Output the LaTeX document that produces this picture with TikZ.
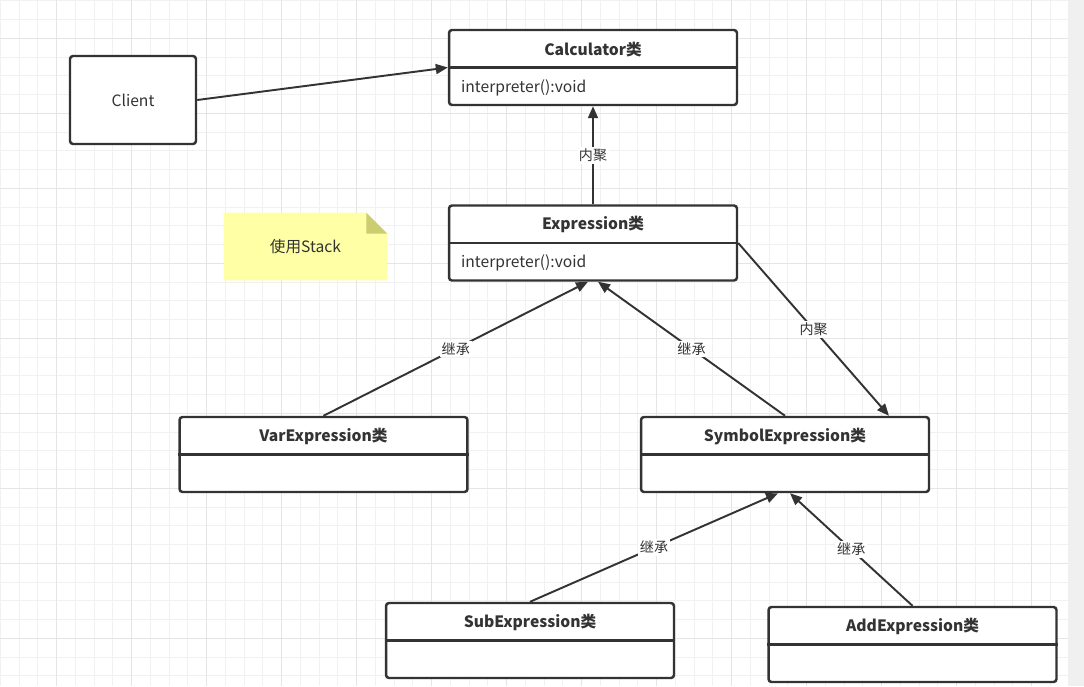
\documentclass[tikz,border=0pt]{standalone}
\usepackage{fontspec}
\setmainfont{Noto Sans CJK SC}
\usetikzlibrary{arrows.meta,positioning}
\definecolor{linegray}{HTML}{333333}
\definecolor{gridminor}{HTML}{F1F1F1}
\definecolor{gridmajor}{HTML}{E5E5E5}
\definecolor{barside}{HTML}{F0F0F0}
\definecolor{noteyellow}{HTML}{FFFFA6}
\definecolor{notefold}{HTML}{CCCC70}

\begin{document}
\begin{tikzpicture}[
  x=0.02cm, y=-0.02cm,
  cls/.style={draw=linegray, line width=1.4pt, rounded corners=0.06cm, fill=white, minimum width=5.76cm, minimum height=1.5cm, inner sep=0pt},
  clstitle/.style={font=\fontsize{8.9}{10}\selectfont\bfseries, text=linegray, inner sep=0pt},
  clsattr/.style={font=\fontsize{8.9}{10}\selectfont, text=linegray, inner sep=0pt, anchor=west},
  link/.style={draw=linegray, line width=1.1pt, -{Triangle[length=0.24cm, width=0.2cm]}},
  lbl/.style={fill=white, inner sep=1pt, font=\fontsize{8}{9}\selectfont, text=linegray},
]
  \useasboundingbox (0,0) rectangle (1084,686);
  \fill[white] (0,0) rectangle (1084,686);

  % Grid
  \foreach \i in {0,...,57} \draw[gridminor, line width=0.6pt] ({0.4+18.75*\i},0) -- ({0.4+18.75*\i},686);
  \foreach \i in {0,...,36} \draw[gridminor, line width=0.6pt] (0,{0.8+18.75*\i}) -- (1084,{0.8+18.75*\i});
  \foreach \i in {0,...,13} \draw[gridmajor, line width=0.6pt] ({56.65+75*\i},0) -- ({56.65+75*\i},686);
  \foreach \i in {0,...,8} \draw[gridmajor, line width=0.6pt] (0,{38.3+75*\i}) -- (1084,{38.3+75*\i});
  \fill[barside] (1068,0) rectangle (1084,686);

  % Classes
  \node[cls, minimum width=2.52cm, minimum height=1.76cm, font=\fontsize{8.9}{10}\selectfont, text=linegray] (client) at (133,100) {Client};

  \node[cls] (calc) at (593,67.5) {};
  \node[clstitle] (calcT) at ([yshift=-0.41cm]calc.north) {Calculator类};
  \draw[draw=linegray, line width=1.4pt] (calc.west) -- (calc.east);
  \node[clsattr] (calcA) at ([xshift=0.26cm, yshift=-0.4cm]calc.west) {interpreter():void};

  \node[cls] (expr) at (593,243) {};
  \node[clstitle] (exprT) at ([yshift=-0.41cm]expr.north) {Expression类};
  \draw[draw=linegray, line width=1.4pt] (expr.west) -- (expr.east);
  \node[clsattr] (exprA) at ([xshift=0.26cm, yshift=-0.4cm]expr.west) {interpreter():void};

  \node[cls] (var) at (323.5,454.5) {};
  \node[clstitle] (varT) at ([yshift=-0.41cm]var.north) {VarExpression类};
  \draw[draw=linegray, line width=1.4pt] (var.west) -- (var.east);

  \node[cls] (sym) at (785,454.5) {};
  \node[clstitle] (symT) at ([yshift=-0.41cm]sym.north) {SymbolExpression类};
  \draw[draw=linegray, line width=1.4pt] (sym.west) -- (sym.east);

  \node[cls] (sub) at (530,640.5) {};
  \node[clstitle] (subT) at ([yshift=-0.41cm]sub.north) {SubExpression类};
  \draw[draw=linegray, line width=1.4pt] (sub.west) -- (sub.east);

  \node[cls] (add) at (912.5,644.5) {};
  \node[clstitle] (addT) at ([yshift=-0.41cm]add.north) {AddExpression类};
  \draw[draw=linegray, line width=1.4pt] (add.west) -- (add.east);

  % Note
  \node[minimum width=3.26cm, minimum height=1.34cm, inner sep=0pt] (note) at (305.5,246.5) {};
  \fill[noteyellow] (note.south west) -- (note.north west) -- ([xshift=-0.42cm]note.north east) -- ([yshift=-0.42cm]note.north east) -- (note.south east) -- cycle;
  \fill[notefold] ([xshift=-0.42cm]note.north east) -- ([xshift=-0.42cm, yshift=-0.42cm]note.north east) -- ([yshift=-0.42cm]note.north east) -- cycle;
  \node[font=\fontsize{8.9}{10}\selectfont, text=linegray] (noteT) at (note) {使用Stack};

  % Links
  \draw[link] (client.east) -- (calc.west);
  \draw[link] (expr.north) -- (calc.south) node[midway, lbl] {内聚};
  \draw[link] (var.north) -- ([xshift=-0.1cm]expr.south) node[midway, lbl] {继承};
  \draw[link] (sym.north) -- ([xshift=0.1cm]expr.south) node[midway, lbl] {继承};
  \draw[link] (expr.east) -- ([xshift=2.08cm]sym.north) node[midway, lbl] {内聚};
  \draw[link] (sub.north) -- ([xshift=-0.14cm]sym.south) node[midway, lbl] {继承};
  \draw[link] (add.north) -- ([xshift=0.1cm]sym.south) node[midway, lbl] {继承};
\end{tikzpicture}
\end{document}
